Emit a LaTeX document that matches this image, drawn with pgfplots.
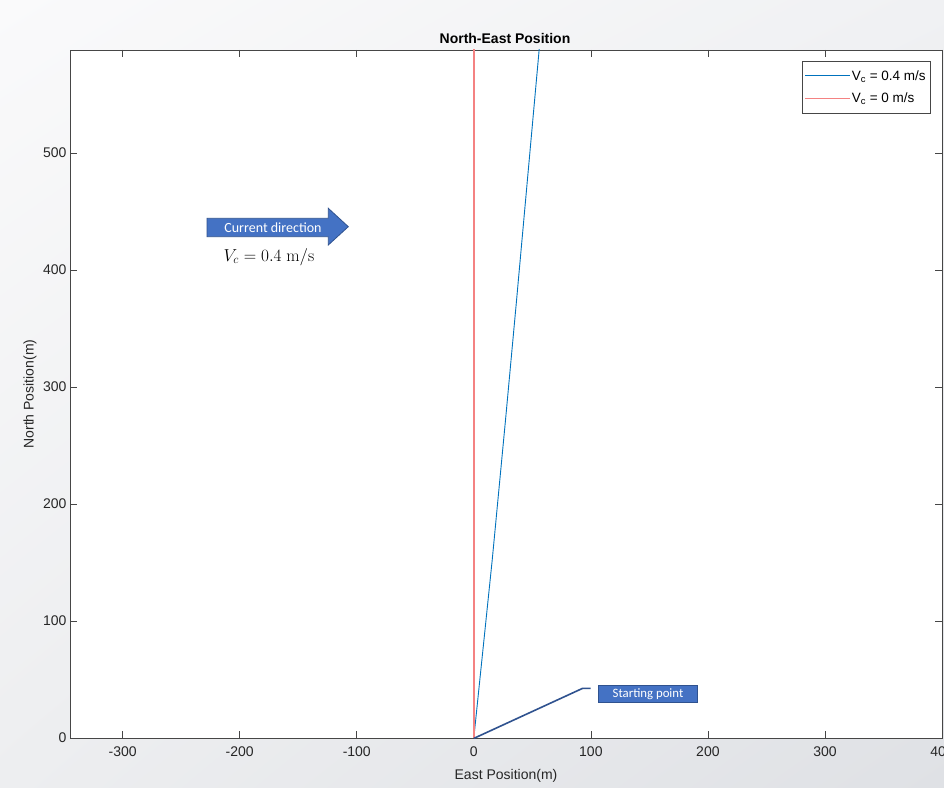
\documentclass[border=0pt]{standalone}
\usepackage{pgfplots}
\pgfplotsset{compat=1.18}
\usepackage[no-math]{fontspec}
\setmainfont{Liberation Sans}
\newfontfamily\calibri{Carlito}
\usetikzlibrary{shadings}

\definecolor{lineBlue}{RGB}{0,114,189}
\definecolor{lineRed}{RGB}{244,130,130}
\definecolor{axgray}{RGB}{38,38,38}
\definecolor{frameGray}{RGB}{70,70,70}
\definecolor{shapeblue}{RGB}{68,114,196}
\definecolor{shapeedge}{RGB}{47,82,143}
\definecolor{bgUL}{RGB}{250,250,251}
\definecolor{bgUR}{RGB}{240,241,243}
\definecolor{bgLL}{RGB}{237,238,240}
\definecolor{bgLR}{RGB}{223,225,229}

\begin{document}
\begin{tikzpicture}[x=1pt,y=1pt]
\useasboundingbox (0,0) rectangle (944,787);
% slide background
\shade[upper left=bgUL, upper right=bgUR, lower left=bgLL, lower right=bgLR]
  (0,0) rectangle (944,787);

\begin{axis}[
  name=ax,
  scale only axis, width=872pt, height=688pt,
  at={(70pt,49pt)}, anchor=south west,
  xmin=-345, xmax=400, ymin=0, ymax=588,
  xtick={-300,-200,...,400}, ytick={0,100,...,500},
  tick align=inside, major tick length=7pt,
  axis background/.style={fill=white},
  axis line style={color=frameGray, line width=0.7pt},
  tick style={color=frameGray, line width=0.7pt},
  ticklabel style={font=\fontsize{14}{16}\selectfont, text=axgray},
  xticklabel style={yshift=-5pt},
  /pgf/number format/assume math mode=true,
  /pgf/number format/1000 sep={},
  xlabel={East Position(m)}, ylabel={North Position(m)},
  xlabel style={font=\fontsize{14}{16}\selectfont, text=axgray, at={(axis description cs:0.5,-0.0552)}, anchor=center},
  ylabel style={font=\fontsize{14}{16}\selectfont, text=axgray, at={(axis description cs:-0.0459,0.5)}, anchor=center},
  legend style={at={(0.9874,0.984)}, anchor=north east, draw=frameGray, line width=0.6pt,
    font=\fontsize{13.5}{15}\selectfont, legend cell align=left,
    inner xsep=3pt, inner ysep=8pt, row sep=9pt,
    nodes={inner xsep=2pt, inner ysep=1pt}},
  % legend samples drawn as thin filled strips
  legend image code/.code={%
    \fill[white] (0pt,0pt) rectangle (0pt,0pt);
    \fill[#1] (0pt,-0.5pt) rectangle (45pt,0.5pt);},
]
% legend samples
\addlegendimage{color=lineBlue, fill=lineBlue, draw=none}
\addlegendentry{V\textsubscript{c} = 0.4 m/s}
\addlegendimage{color=lineRed, fill=lineRed, draw=none}
\addlegendentry{V\textsubscript{c} = 0 m/s}

% V_c = 0.4 m/s track
\addplot[draw=lineBlue, line width=0.9pt, forget plot] coordinates {
  (0,0) (15.7,152) (27.1,272) (36.5,374) (55.8,588) (60,632)
};
% V_c = 0 m/s track (straight north along East = 0), as a thin strip
\addplot[fill=lineRed, draw=none, forget plot] coordinates {
  (-0.6,0) (0.6,0) (0.6,620) (-0.6,620)
} -- cycle;
\end{axis}

% title
\node[font=\bfseries\fontsize{14}{16}\selectfont, anchor=base] at (505,743) {North-East Position};

% current direction arrow
\filldraw[fill=shapeblue, draw=shapeedge, line width=0.8pt]
  (207,550.3) -- (207,568.7) -- (328.3,568.7) -- (328.3,578.7) -- (348.3,560.3)
  -- (328.3,542) -- (328.3,550.3) -- cycle;
\node[text=white, font=\calibri\fontsize{14}{16}\selectfont] at (273,559.5) {Current direction};
\node[font=\fontsize{17}{19}\selectfont] at (269,530) {$V_c = 0.4\ \mathrm{m/s}$};

% starting point callout
\draw[shapeedge, line width=1.6pt] (474,48.7) -- (582.7,98.7) -- (590.7,98.7);
\filldraw[fill=shapeblue, draw=shapeedge, line width=0.8pt] (598.3,84.3) rectangle (697.3,102);
\node[text=white, font=\calibri\fontsize{12.8}{14}\selectfont] at (648,93.2) {Starting point};
\end{tikzpicture}
\end{document}
